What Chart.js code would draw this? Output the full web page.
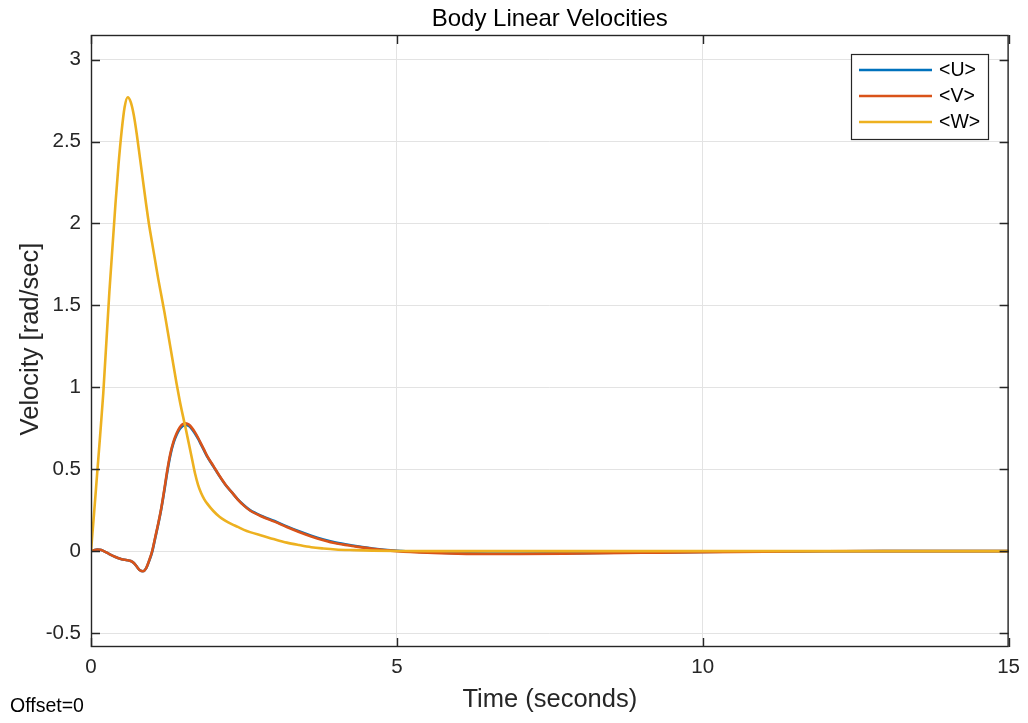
<!DOCTYPE html>
<html>
<head>
<meta charset="utf-8">
<script src="https://cdn.jsdelivr.net/npm/chart.js@4/dist/chart.umd.min.js"></script>
<style>
  html, body { margin: 0; padding: 0; background: #ffffff; }
  #wrap { width: 1028px; height: 723px; }
</style>
</head>
<body>
<div id="wrap"><canvas id="c" width="1028" height="723"></canvas></div>
<script>
// ---- Data ----
const chartTitle = "Body Linear Velocities";
const xAxisLabel = "Time (seconds)";
const yAxisLabel = "Velocity [rad/sec]";
const offsetLabel = "Offset=0";
const seriesNames = ["<U>", "<V>", "<W>"];

const xTicks = [0, 5, 10, 15];
const yTicks = [-0.5, 0, 0.5, 1, 1.5, 2, 2.5, 3];

const time = [0, 0.05, 0.1, 0.15, 0.2, 0.3, 0.4, 0.45, 0.5, 0.55,
  0.6, 0.65, 0.7, 0.75, 0.8, 0.85, 0.9, 0.95, 1.0, 1.05,
  1.1, 1.15, 1.2, 1.25, 1.3, 1.35, 1.4, 1.45, 1.5, 1.55,
  1.6, 1.65, 1.7, 1.75, 1.8, 1.85, 1.9, 2.0, 2.1, 2.2,
  2.3, 2.4, 2.5, 2.6, 2.8, 3.0, 3.2, 3.4, 3.6, 3.8,
  4.0, 4.3, 4.6, 5.0, 5.5, 6.0, 6.5, 7.0, 8.0, 9.0,
  10.0, 11.0, 12.0, 13.0, 14.0, 15.0];

const velU = [0, 0.006, 0.01, 0.009, 0.002, -0.018, -0.036, -0.043, -0.049, -0.053,
  -0.056, -0.06, -0.072, -0.095, -0.117, -0.123, -0.105, -0.06, -0.004, 0.08,
  0.165, 0.26, 0.372, 0.49, 0.59, 0.662, 0.71, 0.745, 0.765, 0.77,
  0.764, 0.745, 0.718, 0.686, 0.65, 0.613, 0.577, 0.517, 0.458, 0.404,
  0.36, 0.316, 0.28, 0.25, 0.213, 0.184, 0.151, 0.121, 0.094, 0.071,
  0.052, 0.033, 0.016, 0.002, -0.007, -0.012, -0.014, -0.014, -0.012, -0.008,
  -0.005, -0.002, -0.001, 0, 0, 0];

const velV = [0, 0.006, 0.01, 0.009, 0.002, -0.018, -0.036, -0.043, -0.049, -0.053,
  -0.056, -0.06, -0.072, -0.095, -0.117, -0.123, -0.105, -0.058, 0.0, 0.085,
  0.17, 0.265, 0.38, 0.5, 0.6, 0.67, 0.72, 0.755, 0.775, 0.78,
  0.772, 0.752, 0.725, 0.692, 0.655, 0.618, 0.58, 0.52, 0.46, 0.405,
  0.36, 0.315, 0.278, 0.248, 0.21, 0.18, 0.147, 0.117, 0.09, 0.067,
  0.048, 0.03, 0.014, 0.0, -0.01, -0.015, -0.017, -0.017, -0.014, -0.01,
  -0.006, -0.003, -0.001, 0, 0, 0];

const velW = [0, 0.23, 0.47, 0.71, 0.96, 1.58, 2.12, 2.36, 2.56, 2.71,
  2.77, 2.74, 2.66, 2.54, 2.40, 2.26, 2.12, 1.99, 1.88, 1.77,
  1.66, 1.56, 1.46, 1.35, 1.24, 1.13, 1.02, 0.92, 0.83, 0.745,
  0.655, 0.565, 0.475, 0.405, 0.355, 0.318, 0.29, 0.245, 0.21, 0.185,
  0.165, 0.148, 0.13, 0.116, 0.094, 0.072, 0.052, 0.037, 0.024, 0.016,
  0.01, 0.006, 0.003, 0.001, 0, 0, 0, 0, 0, 0,
  0, 0, 0, 0, 0, 0];

const seriesColors = ["#0072BD", "#D95319", "#EDB120"];
const seriesValues = [velU, velV, velW];

// ---- Chart ----
const FONT = "'Liberation Sans', Arial, Helvetica, sans-serif";
const AXIS_COLOR = "#262626";

function toPoints(vals) { return time.map((t, i) => ({ x: t, y: vals[i] })); }

const datasets = seriesValues.map((vals, i) => ({
  label: seriesNames[i],
  data: toPoints(vals),
  borderColor: seriesColors[i],
  backgroundColor: seriesColors[i],
  borderWidth: 2.6,
  pointRadius: 0,
  fill: false,
  cubicInterpolationMode: 'monotone',
  order: 3 - i
}));

const decorPlugin = {
  id: 'decor',
  afterDraw(chart) {
    const ctx = chart.ctx;
    const a = chart.chartArea;
    const xs = chart.scales.x, ys = chart.scales.y;
    ctx.save();
    // axes box
    ctx.strokeStyle = AXIS_COLOR;
    ctx.lineWidth = 1.4;
    ctx.strokeRect(a.left + 0.5, a.top + 0.5, a.right - a.left - 1, a.bottom - a.top - 1);
    // inward ticks
    const tl = 9;
    ctx.beginPath();
    yTicks.forEach(v => {
      const y = Math.round(ys.getPixelForValue(v)) + 0.5;
      ctx.moveTo(a.left, y); ctx.lineTo(a.left + tl, y);
      ctx.moveTo(a.right, y); ctx.lineTo(a.right - tl, y);
    });
    xTicks.forEach(v => {
      const x = Math.round(xs.getPixelForValue(v)) + 0.5;
      ctx.moveTo(x, a.bottom); ctx.lineTo(x, a.bottom - tl);
      ctx.moveTo(x, a.top); ctx.lineTo(x, a.top + tl);
    });
    ctx.stroke();

    // title
    ctx.fillStyle = "#000000";
    ctx.font = "24px " + FONT;
    ctx.textAlign = "center";
    ctx.textBaseline = "middle";
    ctx.fillText(chartTitle, (a.left + a.right) / 2, 19);
    // x label
    ctx.fillStyle = AXIS_COLOR;
    ctx.font = "25.5px " + FONT;
    ctx.fillText(xAxisLabel, (a.left + a.right) / 2, 700);
    // y label
    ctx.save();
    ctx.translate(31, (a.top + a.bottom) / 2 - 2);
    ctx.rotate(-Math.PI / 2);
    ctx.fillText(yAxisLabel, 0, 0);
    ctx.restore();
    // offset
    ctx.font = "19.5px " + FONT;
    ctx.textAlign = "left";
    ctx.fillStyle = "#000000";
    ctx.fillText(offsetLabel, 10, 707);

    // legend
    const lx = 851, ly = 54, lw = 137, lh = 85;
    ctx.fillStyle = "#ffffff";
    ctx.fillRect(lx, ly, lw, lh);
    ctx.strokeStyle = AXIS_COLOR;
    ctx.lineWidth = 1.2;
    ctx.strokeRect(lx + 0.5, ly + 0.5, lw, lh);
    const rows = [70, 96, 122];
    chart.data.datasets.forEach((ds, i) => {
      ctx.strokeStyle = ds.borderColor;
      ctx.lineWidth = 2.6;
      ctx.beginPath();
      ctx.moveTo(859, rows[i]); ctx.lineTo(932, rows[i]);
      ctx.stroke();
      ctx.fillStyle = "#000000";
      ctx.font = "19.5px " + FONT;
      ctx.textAlign = "left";
      ctx.textBaseline = "middle";
      ctx.fillText(ds.label, 939, rows[i] + 1);
    });
    ctx.restore();
  }
};

new Chart(document.getElementById('c'), {
  type: 'line',
  data: { datasets },
  options: {
    responsive: false,
    animation: false,
    devicePixelRatio: 1,
    layout: { padding: { top: 35, right: 19, left: 0, bottom: 0 } },
    plugins: { legend: { display: false }, title: { display: false }, tooltip: { enabled: false } },
    scales: {
      x: {
        type: 'linear',
        min: 0, max: 15,
        afterFit: s => { s.height = 76; },
        afterBuildTicks: s => { s.ticks = xTicks.map(v => ({ value: v })); },
        grid: { color: '#e3e3e3', lineWidth: 1, drawTicks: false },
        border: { display: false },
        ticks: { padding: 8, color: AXIS_COLOR, font: { family: FONT, size: 20.5 }, maxRotation: 0, callback: v => String(v) }
      },
      y: {
        type: 'linear',
        min: -0.585, max: 3.15,
        afterFit: s => { s.width = 91; },
        afterBuildTicks: s => { s.ticks = yTicks.map(v => ({ value: v })); },
        grid: { color: '#e3e3e3', lineWidth: 1, drawTicks: false },
        border: { display: false },
        ticks: { padding: 10, color: AXIS_COLOR, font: { family: FONT, size: 20.5 }, callback: v => String(v) }
      }
    }
  },
  plugins: [decorPlugin]
});
</script>
</body>
</html>
